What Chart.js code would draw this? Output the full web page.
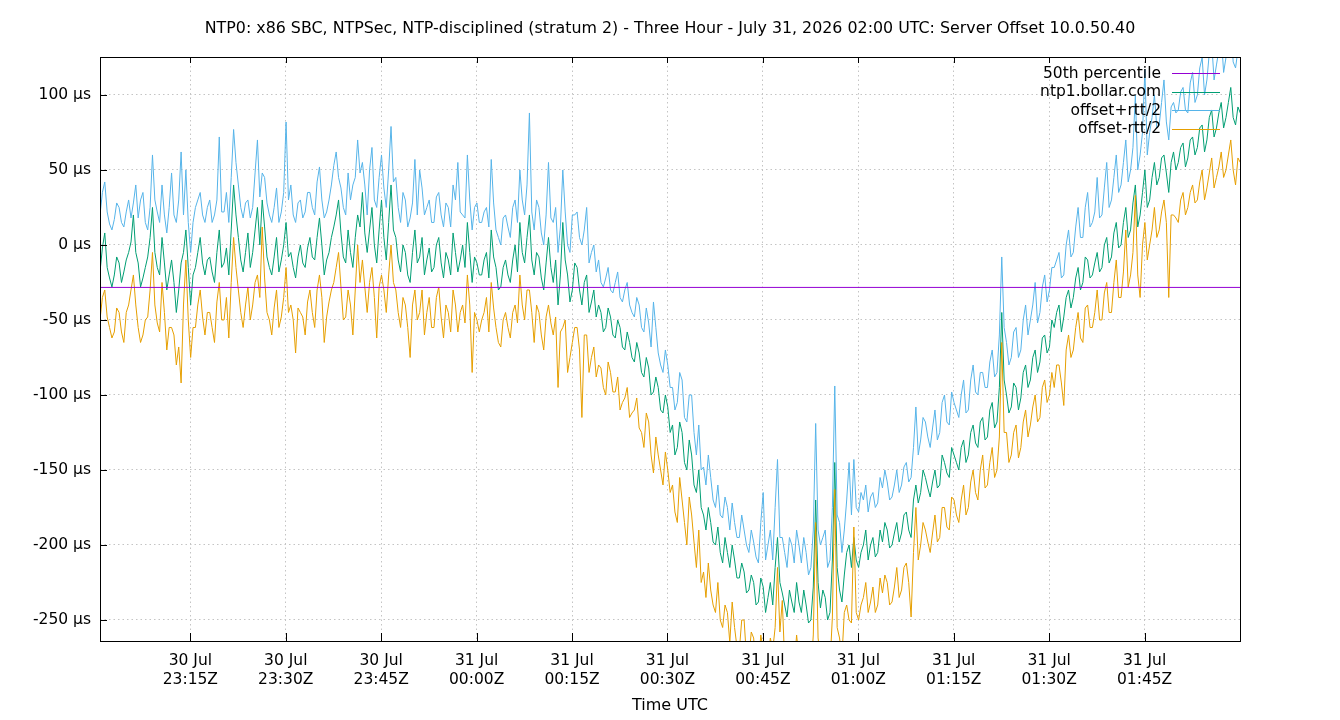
<!DOCTYPE html>
<html><head><meta charset="utf-8">
<style>html,body{margin:0;padding:0;background:#fff}canvas{display:block}</style>
<script src="https://cdn.jsdelivr.net/npm/chart.js@4/dist/chart.umd.min.js"></script>
</head><body>
<canvas id="c" width="1340" height="720"></canvas>
<script>
const titleText = "NTP0: x86 SBC, NTPSec, NTP-disciplined (stratum 2) - Three Hour - July 31, 2026 02:00 UTC: Server Offset 10.0.50.40";
const xAxisTitle = "Time UTC";
// sample times: minutes relative to 31 Jul 00:00Z
const sampleStartMin = -59.2;
const sampleStepMin = 0.375;
const xMinMin = -59.2, xMaxMin = 120;
const xTickMinutes = [-45, -30, -15, 0, 15, 30, 45, 60, 75, 90, 105];
const yTickValues = [-250, -200, -150, -100, -50, 0, 50, 100];
const yMin = -264, yMax = 125.3;
const percentile50 = -28.3;
const seriesNames = ["50th percentile", "ntp1.bollar.com", "offset+rtt/2", "offset-rtt/2"];
const seriesColors = ["#9400d3", "#009e73", "#56b4e9", "#e69f00"];

// offset (µs)
const offsetSeries = [
 -18,-2, 8,-15, -22,-28, -20,-8, -12,-25, -18,-10, -5,2, 20,-5, -12,-28, -22,-15, -8,5, 25,-5, -15,-20, 5,-12, -30,-20, -10,-25, -45,-30, -12,-5, 10,-15, -40,-20,
 -15,-5, 5,-12, -20,-10, -8,-18, -25,-5, 10,-15, -12,-2, -20,10, 40,20, 5,-10, -18,-5, 8,-15, -5,10, 25,0, 30,12, -8,-15, -20,-8, 5,-18, -10,0, 15,-8,
 -5,-15, -22,-8, 0,-12, -15,-2, 5,-8, -10,5, 18,0, -20,-10, -5,5, 12,20, 30,8, -8,-12, 10,-5, -15,5, 20,12, 35,8, -5,10, 25,0, -12,10, 30,5,
 -10,15, 40,10, 5,-10, -18,0, -5,-20, -25,-5, 10,-12, -8,5, -20,-10, -2,-18, -15,0, 5,-12, -22,-5, -10,-20, 8,-5, -18,-10, 0,-15, 15,-5, -25,-8, -12,-20,
 -20,-10, -5,-22, 10,-8, -15,-30, -28,-15, -10,-20, -25,-10, 0,-18, 15,-5, -12,5, 20,-10, -20,-5, -8,-22, -30,-12, 5,-15, -25,-10, -40,-20, 15,-10, -20,-38, -30,-12,
 -15,-30, -40,-25, -20,-45, -38,-30, -48,-40, -45,-58, -55,-42, -48,-60, -62,-50, -55,-68, -70,-58, -65,-75, -78,-65, -72,-85, -88,-75, -82,-100, -98,-88, -95,-110, -112,-100, -108,-125,
 -120,-140, -135,-118, -125,-145, -150,-130, -140,-160, -165,-150, -175,-180, -190,-175, -185,-198, -200,-188, -205,-212, -195,-205, -215,-200, -210,-222, -222,-212, -218,-232, -230,-220, -225,-240, -238,-222, -228,-245,
 -235,-225, -240,-215, -195,-225, -232,-240, -248,-230, -238,-245, -225,-238, -245,-230, -240,-252, -250,-228, -170,-225, -242,-230, -235,-250, -245,-210, -145,-215, -230,-238, -220,-205, -200,-215, -195,-210, -215,-205,
 -200,-190, -210,-200, -195,-208, -205,-190, -198,-185, -190,-202, -200,-192, -185,-198, -192,-180, -178,-190, -195,-170, -160,-172, -165,-150, -155,-162, -168,-158, -150,-162, -160,-140, -145,-152, -155,-135, -140,-145,
 -150,-135, -130,-145, -140,-125, -120,-132, -135,-118, -115,-130, -128,-110, -105,-122, -118,-95, -45,-90, -100,-112, -108,-92, -95,-110, -102,-85, -80,-95, -90,-75, -70,-85, -78,-62, -60,-72, -68,-50,
 -55,-45, -40,-58, -48,-35, -30,-42, -35,-22, -15,-30, -25,-8, -10,-22, -20,-12, -5,-18, -15,0, 5,-12, -8,8, 15,-2, 0,15, 25,5, 10,28, 40,12, 20,35, 50,25,
 30,45, 55,40, 45,58, 60,48, 35,55, 62,50, 55,65, 68,52, 58,70, 72,60, 65,78, 80,62, 70,85, 90,72, 78,88, 95,78, 85,95, 105,85, 80,92, 88,80
];
// offset + rtt/2 (µs)
const offsetPlusHalfRtt = [
 20,35, 42,22, 14,10, 17,28, 25,15, 12,22, 30,18, 28,40, 18,30, 35,15, 10,25, 60,30, 22,15, 40,20, 8,25, 48,20, 15,30, 62,20, 50,15, -5,15,
 25,30, 35,20, 15,25, 30,15, 20,30, 72,22, 22,35, 15,45, 77,55, 40,25, 18,28, 30,18, 25,48, 70,32, 48,45, 28,20, 15,25, 38,15, 22,35, 82,30,
 40,20, 15,28, 30,18, 22,35, 35,25, 20,42, 52,30, 18,22, 30,40, 53,62, 45,38, 25,20, 48,30, 40,45, 70,48, 55,40, 20,50, 65,30, 25,45, 60,38,
 25,50, 79,42, 45,25, 15,35, 30,12, 18,28, 57,20, 50,38, 20,25, 30,15, 15,32, 35,20, 12,28, 25,12, 40,30, 55,22, 20,18, 60,30, 10,25, 28,15,
 15,22, 25,12, 57,28, 10,5, 0,18, 20,12, 5,25, 30,15, 50,30, 20,40, 88,22, 10,30, 25,8, 0,20, 55,18, 15,25, -5,12, 50,22, 0,-5, 20,20,
 22,5, 0,10, 25,-12, -5,0, -18,-10, -25,-28, -22,-15, -30,-32, -25,-18, -35,-38, -30,-25, -40,-45, -48,-35, -40,-55, -58,-42, -52,-68, -38,-55, -72,-80, -85,-70, -80,-95,
 -95,-110, -105,-85, -90,-115, -118,-100, -100,-125, -140,-120, -150,-148, -160,-140, -155,-170, -175,-160, -180,-182, -168,-175, -190,-172, -185,-195, -195,-180, -190,-200, -205,-190, -198,-208, -212,-185, -165,-210,
 -200,-190, -210,-175, -143,-195, -195,-205, -215,-195, -200,-212, -190,-200, -212,-195, -205,-220, -215,-190, -119,-190, -200,-195, -190,-215, -210,-175, -94,-180, -185,-205, -190,-170, -145,-180, -143,-175, -178,-165,
 -170,-160, -178,-168, -165,-175, -172,-155, -162,-150, -158,-170, -168,-160, -150,-165, -160,-148, -145,-158, -155,-135, -108,-140, -130,-115, -118,-128, -135,-122, -110,-130, -125,-105, -100,-118, -120,-98, -105,-110,
 -115,-100, -90,-112, -110,-90, -80,-98, -100,-85, -85,-95, -95,-78, -70,-88, -85,-60, -8,-55, -65,-80, -75,-58, -55,-75, -70,-50, -40,-60, -50,-40, -25,-52, -45,-28, -20,-38, -30,-15,
 -15,-10, -5,-22, -20,0, 10,-8, -5,12, 25,5, 5,25, 35,12, 15,22, 45,18, 20,38, 55,25, 30,45, 60,35, 40,55, 70,42, 50,65, 100,50, 60,75, 117,60,
 75,85, 100,78, 80,95, 110,82, 70,92, 95,88, 90,102, 105,90, 88,108, 115,95, 100,118, 125,100, 110,128, 135,110, 120,130, 140,115, 125,138, 150,122, 118,130, 128,120
];
// offset - rtt/2 (µs)
const offsetMinusHalfRtt = [
 -50,-35, -30,-48, -55,-62, -58,-42, -45,-58, -65,-45, -40,-30, -20,-40, -55,-65, -60,-50, -48,-30, -5,-40, -52,-58, -25,-45, -70,-55, -55,-60, -80,-68, -92,-40, -10,-50, -75,-55,
 -55,-40, -30,-48, -60,-45, -45,-55, -65,-38, -25,-50, -50,-35, -62,-25, 5,-15, -30,-45, -55,-40, -28,-50, -40,-25, -20,-35, 12,-22, -45,-50, -60,-42, -30,-55, -48,-35, -15,-45,
 -40,-50, -72,-42, -45,-48, -60,-38, -30,-45, -55,-30, -20,-35, -65,-48, -38,-30, -25,-15, -5,-28, -50,-48, -30,-40, -60,-30, 0,-25, -10,-28, -45,-25, -15,-35, -62,-28, -20,-30,
 -45,-20, 0,-25, -30,-45, -55,-35, -40,-55, -75,-40, -30,-50, -45,-30, -60,-45, -35,-55, -55,-35, -28,-48, -62,-40, -45,-58, -30,-40, -58,-45, -40,-52, -20,-40, -85,-45, -50,-58,
 -50,-45, -35,-58, -25,-42, -55,-65, -68,-50, -45,-55, -62,-45, -40,-52, -20,-40, -50,-30, -30,-45, -65,-40, -45,-60, -70,-48, -40,-52, -60,-48, -95,-58, -55,-50, -85,-75, -65,-55,
 -55,-70, -115,-60, -60,-85, -75,-68, -88,-80, -82,-95, -100,-78, -85,-98, -98,-88, -110,-105, -102,-95, -115,-112, -110,-102, -122,-125, -135,-112, -118,-140, -152,-128, -140,-150, -160,-138, -150,-165,
 -160,-178, -185,-155, -170,-185, -200,-168, -180,-198, -215,-190, -225,-218, -235,-212, -230,-240, -245,-225, -250,-255, -240,-245, -265,-238, -255,-268, -270,-250, -250,-275, -275,-258, -262,-285, -280,-260, -270,-290,
 -275,-262, -270,-255, -215,-258, -237,-278, -285,-265, -270,-282, -260,-275, -280,-265, -270,-290, -285,-260, -185,-262, -275,-268, -265,-288, -280,-248, -163,-255, -262,-275, -245,-240, -250,-252, -188,-245, -250,-240,
 -235,-225, -245,-238, -228,-245, -240,-222, -232,-220, -225,-240, -238,-228, -215,-235, -230,-215, -212,-225, -248,-205, -175,-210, -200,-185, -190,-198, -205,-192, -180,-198, -195,-175, -175,-188, -190,-168, -170,-180,
 -185,-170, -160,-180, -175,-158, -150,-165, -170,-150, -140,-162, -160,-145, -135,-155, -150,-128, -65,-125, -125,-145, -140,-125, -120,-142, -135,-118, -110,-128, -120,-108, -100,-118, -115,-95, -90,-105, -100,-85,
 -95,-80, -80,-92, -107,-70, -60,-75, -70,-55, -45,-62, -65,-42, -40,-55, -55,-45, -30,-50, -50,-32, -25,-45, -45,-25, -10,-35, -35,-18, 10,-28, -20,-5, 33,-20, -35,0, 15,-10,
 0,10, 25,5, 10,22, 30,15, -35,20, 20,18, 15,30, 35,20, 25,35, 40,28, 30,42, 50,30, 38,48, 58,38, 45,52, 62,45, 50,60, 70,50, 40,58, 55,48
];

const toPoints = arr => arr.map((v, i) => ({x: sampleStartMin + i * sampleStepMin, y: v}));
const FONT = '"DejaVu Sans", "Liberation Sans", sans-serif';

function timeLabel(m) {
  const t = ((m % 1440) + 1440) % 1440;
  const hh = String(Math.floor(t / 60)).padStart(2, '0');
  const mm = String(Math.round(t % 60)).padStart(2, '0');
  return [m < 0 ? '30 Jul' : '31 Jul', hh + ':' + mm + 'Z'];
}

const overlay = {
  id: 'overlay',
  afterDraw(chart) {
    const {ctx, chartArea: a, scales: {x, y}} = chart;
    ctx.save();
    ctx.strokeStyle = '#000';
    ctx.lineWidth = 1;
    ctx.beginPath();
    xTickMinutes.forEach(v => {
      const px = Math.round(x.getPixelForValue(v)) + 0.5;
      ctx.moveTo(px, a.bottom); ctx.lineTo(px, a.bottom - 8);
      ctx.moveTo(px, a.top); ctx.lineTo(px, a.top + 6);
    });
    yTickValues.forEach(v => {
      const py = Math.round(y.getPixelForValue(v)) + 0.5;
      ctx.moveTo(a.left, py); ctx.lineTo(a.left + 7, py);
    });
    ctx.stroke();
    ctx.strokeRect(Math.round(a.left) + 0.5, Math.round(a.top) + 0.5,
                   Math.round(a.right - a.left), Math.round(a.bottom - a.top));
    ctx.fillStyle = '#000';
    ctx.font = '15.85px ' + FONT;
    ctx.textAlign = 'center';
    ctx.textBaseline = 'middle';
    ctx.fillText(titleText, 670, 29);
    ctx.font = '16px ' + FONT;
    ctx.fillText(xAxisTitle, 670, 706);
    ctx.font = '15.5px ' + FONT;
    ctx.textAlign = 'right';
    seriesNames.forEach((name, i) => {
      const ly = 73 + i * 18.6;
      ctx.fillStyle = '#000';
      ctx.fillText(name, 1161, ly + 0.5);
      ctx.strokeStyle = seriesColors[i];
      ctx.beginPath();
      ctx.moveTo(1172, Math.round(ly) + 0.5);
      ctx.lineTo(1220, Math.round(ly) + 0.5);
      ctx.stroke();
    });
    ctx.restore();
  }
};

Chart.defaults.font.family = FONT;
Chart.defaults.font.size = 15.5;
Chart.defaults.color = '#000';

const lineDs = (label, data, color) => ({
  label, data, borderColor: color, backgroundColor: color,
  borderWidth: 1, pointRadius: 0, tension: 0, fill: false
});

new Chart(document.getElementById('c'), {
  type: 'line',
  data: {
    datasets: [
      lineDs(seriesNames[0], [{x: xMinMin, y: percentile50}, {x: xMaxMin, y: percentile50}], seriesColors[0]),
      lineDs(seriesNames[3], toPoints(offsetMinusHalfRtt), seriesColors[3]),
      lineDs(seriesNames[2], toPoints(offsetPlusHalfRtt), seriesColors[2]),
      lineDs(seriesNames[1], toPoints(offsetSeries), seriesColors[1])
    ]
  },
  options: {
    responsive: false,
    animation: false,
    devicePixelRatio: 1,
    layout: {padding: {top: 57, right: 100, left: 0, bottom: 0}},
    plugins: {legend: {display: false}, tooltip: {enabled: false}, title: {display: false}},
    scales: {
      x: {
        type: 'linear', min: xMinMin, max: xMaxMin,
        afterBuildTicks: s => { s.ticks = xTickMinutes.map(v => ({value: v})); },
        afterFit: s => { s.height = 79; },
        grid: {color: '#c4c4c4', lineWidth: 1, drawTicks: false},
        border: {display: false, dash: [1.5, 3]},
        ticks: {autoSkip: false, maxRotation: 0, padding: 11, font: {size: 15.5, lineHeight: 1.2},
                callback: v => timeLabel(v)}
      },
      y: {
        type: 'linear', min: yMin, max: yMax,
        afterBuildTicks: s => { s.ticks = yTickValues.map(v => ({value: v})); },
        afterFit: s => { s.width = 100; },
        grid: {color: '#c4c4c4', lineWidth: 1, drawTicks: false},
        border: {display: false, dash: [1.5, 3]},
        ticks: {padding: 9, font: {size: 15.5}, callback: v => v + ' µs'}
      }
    }
  },
  plugins: [overlay]
});
</script>
</body></html>
